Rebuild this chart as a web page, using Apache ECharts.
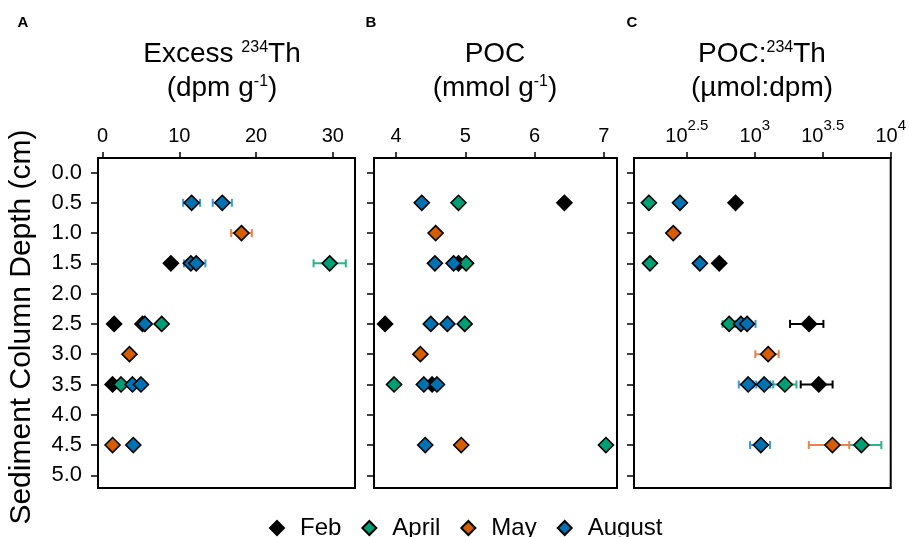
<!DOCTYPE html>
<html><head><meta charset="utf-8">
<script src="https://cdn.jsdelivr.net/npm/echarts@6/dist/echarts.min.js"></script>
<style>html,body{margin:0;padding:0;background:#fff}#c{width:909px;height:537px}</style>
</head><body><div id="c"></div>
<script>
const FONT = '"Liberation Sans", Arial, sans-serif';
const months = ['Feb', 'April', 'May', 'August'];
const colors = ['#000000', '#009E73', '#D55E00', '#0072B2'];
const errColors = ['#000000', '#2BB38A', '#E8834E', '#3A9BD6'];

const depthTicks = [0, 0.5, 1.0, 1.5, 2.0, 2.5, 3.0, 3.5, 4.0, 4.5, 5.0];
const thTicks = [0, 10, 20, 30];
const pocTicks = [4, 5, 6, 7];
const ratioTicks = [316.2278, 1000, 3162.278, 10000];

// Panel A: excess 234Th (dpm/g) — [value, depth, error]
const thFeb = [[8.9, 1.5, 0], [1.5, 2.5, 0], [1.3, 3.5, 0]];
const thApril = [[29.6, 1.5, 2.1], [7.7, 2.5, 0], [2.4, 3.5, 0]];
const thMay = [[18.1, 1.0, 1.35], [3.5, 3.0, 0], [1.3, 4.5, 0]];
const thAugust = [[11.6, 0.5, 1.1], [15.6, 0.5, 1.25], [11.5, 1.5, 0.9], [12.2, 1.5, 1.2],
  [5.2, 2.5, 0], [5.5, 2.5, 0], [3.9, 3.5, 0], [5.0, 3.5, 0], [4.0, 4.5, 0]];

// Panel B: POC (mmol/g) — [value, depth]
const pocFeb = [[6.43, 0.5], [4.90, 1.5], [3.84, 2.5], [4.52, 3.5]];
const pocApril = [[4.90, 0.5], [5.01, 1.5], [4.99, 2.5], [3.97, 3.5], [7.03, 4.5]];
const pocMay = [[4.57, 1.0], [4.35, 3.0], [4.94, 4.5]];
const pocAugust = [[4.37, 0.5], [4.56, 1.5], [4.83, 1.5], [4.50, 2.5], [4.74, 2.5],
  [4.40, 3.5], [4.59, 3.5], [4.42, 4.5]];

// Panel C: POC:234Th (umol/dpm) — [value, depth, error]
const ratioFeb = [[721, 0.5, 0], [547, 1.5, 0], [2506, 2.5, 690], [2956, 3.5, 780]];
const ratioApril = [[166, 0.5, 0], [169, 1.5, 0], [647, 2.5, 69], [1663, 3.5, 362], [6081, 4.5, 2454]];
const ratioMay = [[251, 1.0, 0], [1253, 3.0, 245], [3724, 4.5, 1230]];
const ratioAugust = [[281, 0.5, 0], [394, 1.5, 0], [789, 2.5, 110], [877, 2.5, 135],
  [893, 3.5, 131], [1172, 3.5, 193], [1107, 4.5, 185]];

const panels = [
  { sets: [thFeb, thApril, thMay, thAugust] },
  { sets: [pocFeb, pocApril, pocMay, pocAugust] },
  { sets: [ratioFeb, ratioApril, ratioMay, ratioAugust] }
];

const grids = [
  { left: 98, top: 158, width: 257, height: 330 },
  { left: 374, top: 158, width: 243, height: 330 },
  { left: 634, top: 158, width: 257, height: 330 }
].map(g => Object.assign(g, { show: true, borderColor: '#000', borderWidth: 2, backgroundColor: 'transparent' }));

function xAxisBase(i) {
  return {
    gridIndex: i, position: 'top',
    axisLine: { show: true, onZero: false, lineStyle: { color: '#000', width: 2 } },
    axisTick: { show: true, inside: false, length: 6, lineStyle: { color: '#000', width: 1.5 } },
    axisLabel: { color: '#000', fontSize: 20, fontFamily: FONT, margin: 12 },
    splitLine: { show: false }
  };
}
const xA = xAxisBase(0);
Object.assign(xA, { type: 'value', min: -0.6, max: 32.9 });
xA.axisTick.customValues = thTicks; xA.axisLabel.customValues = thTicks;
const xB = xAxisBase(1);
Object.assign(xB, { type: 'value', min: 3.68, max: 7.19 });
xB.axisTick.customValues = pocTicks; xB.axisLabel.customValues = pocTicks;
const xC = xAxisBase(2);
Object.assign(xC, { type: 'log', logBase: 10, min: 129, max: 10000 });
xC.axisTick.customValues = ratioTicks; xC.axisLabel.customValues = ratioTicks;
xC.axisLabel.formatter = v => {
  const e = Math.round(Math.log10(v) * 2) / 2;
  return '{b|10}{s|' + e + '}';
};
xC.axisLabel.rich = {
  b: { fontSize: 20, fontFamily: FONT, color: '#000', lineHeight: 28, verticalAlign: 'bottom' },
  s: { fontSize: 15, fontFamily: FONT, color: '#000', lineHeight: 28, verticalAlign: 'top' }
};

function yAxis(i) {
  return {
    type: 'value', gridIndex: i, inverse: true, min: -0.24, max: 5.21,
    axisLine: { show: true, onZero: false, lineStyle: { color: '#000', width: 2 } },
    axisTick: { show: true, inside: false, length: 7, lineStyle: { color: '#000', width: 1.5 }, customValues: depthTicks },
    axisLabel: { show: i === 0, customValues: depthTicks, formatter: v => v.toFixed(1),
      color: '#000', fontSize: 22, fontFamily: FONT, margin: 16 },
    splitLine: { show: false }
  };
}

const series = [];
panels.forEach((p, pi) => {
  p.sets.forEach((set, mi) => {
    const errs = set.filter(d => d[2] > 0);
    if (errs.length) {
      const col = errColors[mi];
      series.push({
        type: 'custom', name: 'err' + pi + months[mi], xAxisIndex: pi, yAxisIndex: pi,
        data: errs, encode: { x: 0, y: 1 }, z: 2, silent: true,
        renderItem: (params, api) => {
          const x = api.value(0), y = api.value(1), e = api.value(2);
          const a = api.coord([x - e, y]), b = api.coord([x + e, y]);
          const h = 4;
          const st = { stroke: col, lineWidth: 2 };
          return { type: 'group', children: [
            { type: 'line', shape: { x1: a[0], y1: a[1], x2: b[0], y2: b[1] }, style: st },
            { type: 'line', shape: { x1: a[0], y1: a[1] - h, x2: a[0], y2: a[1] + h }, style: st },
            { type: 'line', shape: { x1: b[0], y1: b[1] - h, x2: b[0], y2: b[1] + h }, style: st }
          ] };
        }
      });
    }
  });
  p.sets.forEach((set, mi) => {
    series.push({
      type: 'scatter', name: months[mi], xAxisIndex: pi, yAxisIndex: pi,
      data: set.map(d => [d[0], d[1]]), symbol: 'diamond', symbolSize: 15, z: 3,
      itemStyle: { color: colors[mi], borderColor: '#000', borderWidth: 1.6, opacity: 1 },
      emphasis: { disabled: true }
    });
  });
});

const titleRich = {
  n: { fontSize: 28, fontFamily: FONT, color: '#000', lineHeight: 34, verticalAlign: 'top' },
  s: { fontSize: 16, fontFamily: FONT, color: '#000', lineHeight: 34, verticalAlign: 'top' }
};
function titleText(x, text) {
  return { type: 'text', x: x, y: 40, z: 10,
    style: { text: text, rich: titleRich, align: 'center', verticalAlign: 'top', fill: '#000', fontFamily: FONT, fontSize: 28 } };
}
function letter(x, t) {
  return { type: 'text', x: x, y: 23, z: 10,
    style: { text: t, fill: '#000', fontFamily: FONT, fontSize: 15, fontWeight: 'bold', align: 'center', verticalAlign: 'middle' } };
}

const option = {
  animation: false,
  backgroundColor: '#fff',
  grid: grids,
  xAxis: [xA, xB, xC],
  yAxis: [yAxis(0), yAxis(1), yAxis(2)],
  legend: {
    data: months, left: 264, top: 511, icon: 'diamond', itemWidth: 14, itemHeight: 14, itemGap: 20,
    formatter: n => '{t|' + n + '}',
    textStyle: { color: '#000', fontSize: 24, fontFamily: FONT,
      rich: { t: { fontSize: 24, fontFamily: FONT, color: '#000', padding: [0, 0, 0, 11] } } },
    selectedMode: false
  },
  graphic: [
    letter(23, 'A'), letter(371, 'B'), letter(632, 'C'),
    titleText(222, '{n|Excess }{s|234}{n|Th}\n{n|(dpm g}{s|-1}{n|)}'),
    titleText(495, '{n|POC}\n{n|(mmol g}{s|-1}{n|)}'),
    titleText(762, '{n|POC:}{s|234}{n|Th}\n{n|(µmol:dpm)}'),
    { type: 'text', x: 22, y: 327, rotation: Math.PI / 2, z: 10,
      style: { text: 'Sediment Column Depth (cm)', fill: '#000', fontFamily: FONT, fontSize: 30, align: 'center', verticalAlign: 'middle' } }
  ],
  series: series
};
echarts.init(document.getElementById('c')).setOption(option);
</script></body></html>
